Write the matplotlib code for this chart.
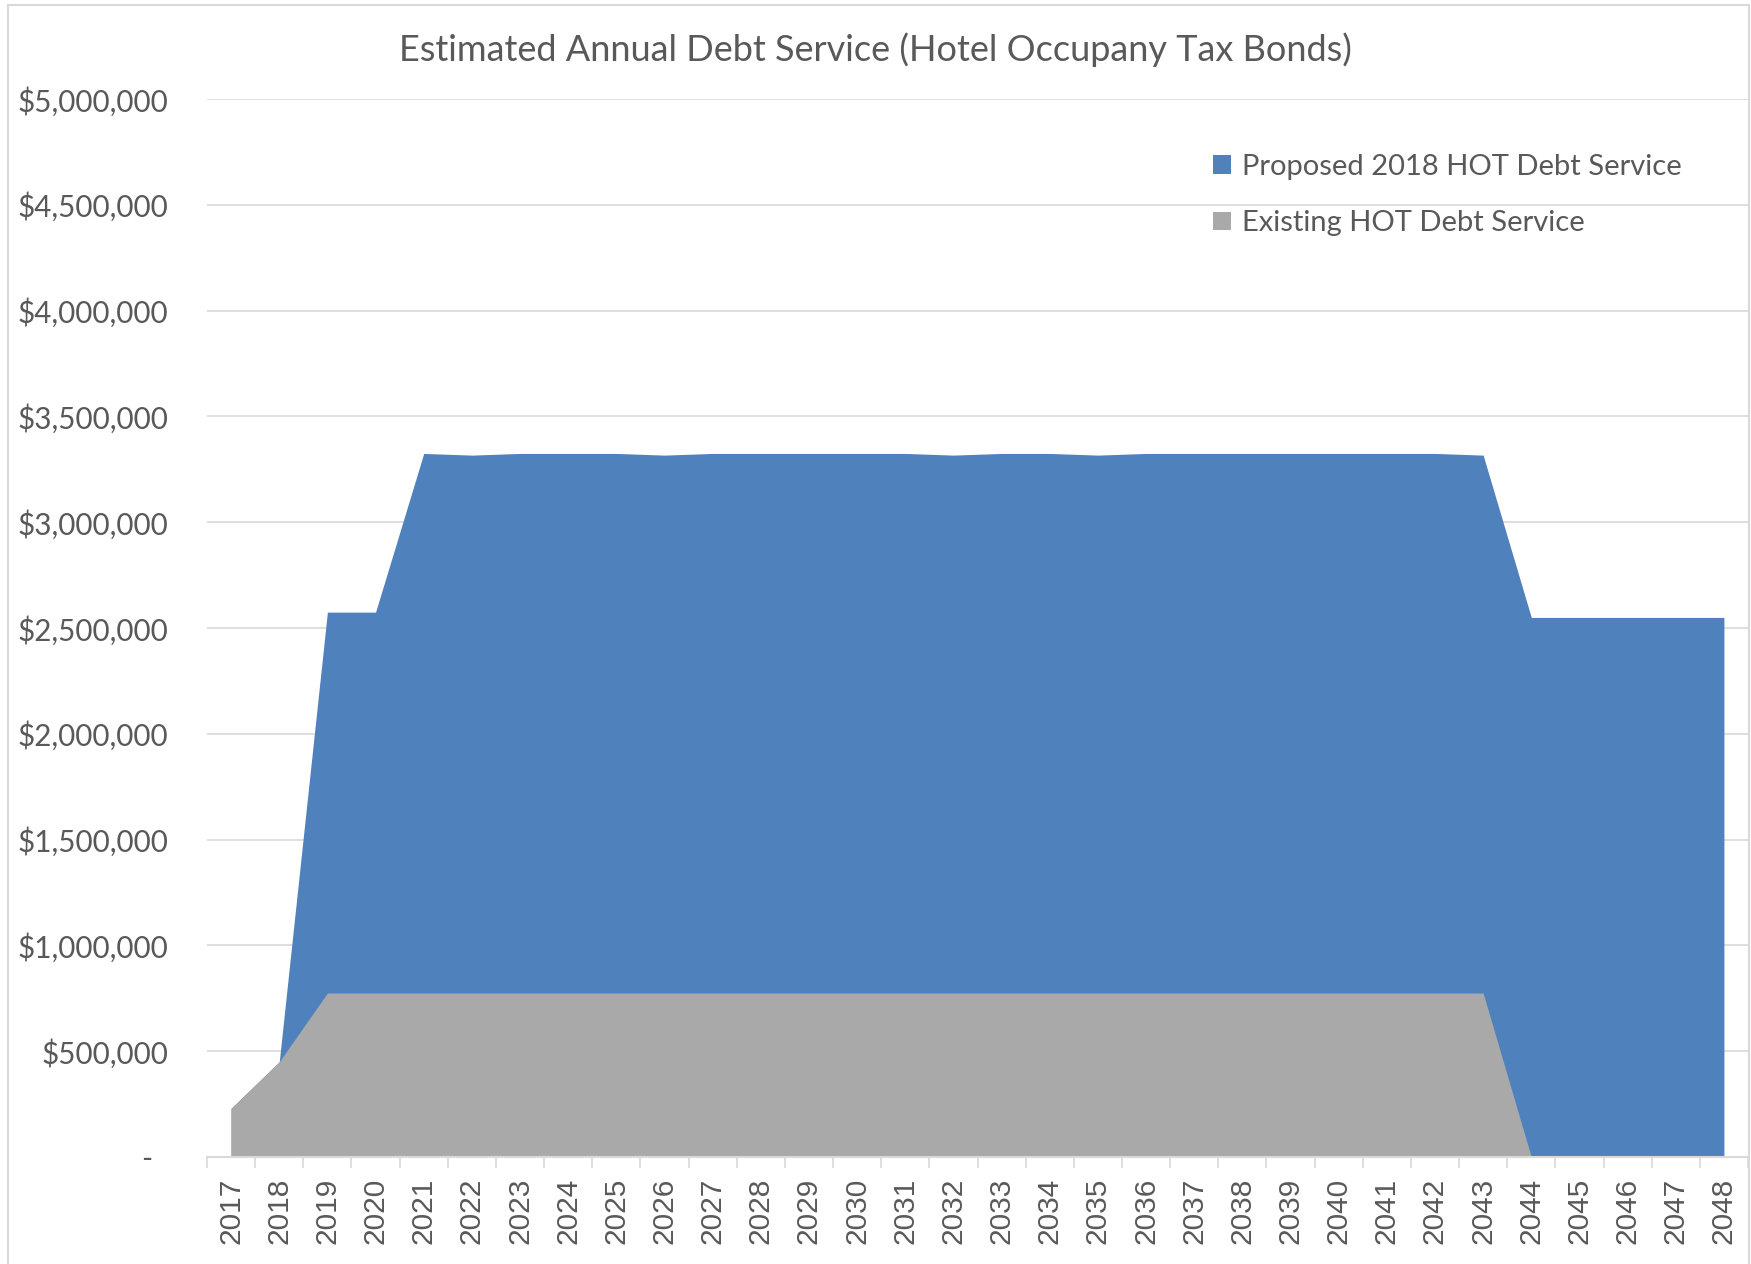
import matplotlib.pyplot as plt
from matplotlib.patches import Patch
from matplotlib.lines import Line2D
from matplotlib.ticker import FuncFormatter, MultipleLocator

# --- Data
years = ["2017", "2018", "2019", "2020", "2021", "2022", "2023", "2024",
         "2025", "2026", "2027", "2028", "2029", "2030", "2031", "2032",
         "2033", "2034", "2035", "2036", "2037", "2038", "2039", "2040",
         "2041", "2042", "2043", "2044", "2045", "2046", "2047", "2048"]

existing = [230000, 450000, 775000, 775000, 775000, 775000, 775000, 775000,
            775000, 775000, 775000, 775000, 775000, 775000, 775000, 775000,
            775000, 775000, 775000, 775000, 775000, 775000, 775000, 775000,
            775000, 775000, 775000, 0, 0, 0, 0, 0]

proposed = [0, 0, 1800000, 1800000, 2550000, 2542000, 2550000, 2550000,
            2550000, 2542000, 2550000, 2550000, 2550000, 2550000, 2550000, 2542000,
            2550000, 2550000, 2542000, 2550000, 2550000, 2550000, 2550000, 2550000,
            2550000, 2550000, 2542000, 2550000, 2550000, 2550000, 2550000, 2550000]

title = "Estimated Annual Debt Service (Hotel Occupany Tax Bonds)"
series_names = ["Proposed 2018 HOT Debt Service", "Existing HOT Debt Service"]

BLUE = "#4F81BD"
GRAY = "#A9A9A9"
GRID = "#D9D9D9"
TEXT = "#595959"

plt.rcParams['font.family'] = ['Lato', 'DejaVu Sans']

W, H = 1751, 1264
fig = plt.figure(figsize=(W / 100, H / 100), dpi=100)
ax = fig.add_axes([207 / W, 1 - 1157 / H, (1748 - 207) / W, (1157 - 99) / H])

x = list(range(len(years)))
total = [e + p for e, p in zip(existing, proposed)]

# blue drawn as the full stack, grey on top of it (no seams between the two)
ax.fill_between(x, 0, total, color=BLUE, lw=0, zorder=2)
ax.fill_between(x, 0, existing, color=GRAY, lw=0, zorder=3)

ax.set_xlim(-0.5, len(years) - 0.5)
ax.set_ylim(0, 5000000)

ax.yaxis.set_major_locator(MultipleLocator(500000))


def money(v, pos):
    if v == 0:
        return "-  "
    return "${:,.0f}".format(v)


ax.yaxis.set_major_formatter(FuncFormatter(money))
ax.grid(axis="y", color=GRID, lw=1.2)
ax.set_axisbelow(True)

ax.set_xticks(x)
ax.set_xticklabels(years, rotation=90)
ax.set_xticks([i - 0.5 for i in range(len(years) + 1)], minor=True)
ax.tick_params(axis="x", which="major", length=0, pad=15, labelsize=21.5,
               labelcolor=TEXT, labelfontfamily="Liberation Sans")
ax.tick_params(axis="x", which="minor", length=8, width=1.2, color=GRID, direction="out")
ax.tick_params(axis="y", length=0, pad=28, labelsize=21.3, labelcolor=TEXT)

for side in ["top", "right", "left"]:
    ax.spines[side].set_visible(False)
ax.spines["bottom"].set_color(GRID)
ax.spines["bottom"].set_linewidth(1.5)
ax.spines["bottom"].set_zorder(4)

fig.text(0.5, 1 - 50 / H, title, ha="center", va="center", fontsize=26, color=TEXT)

handles = [Patch(facecolor=BLUE, edgecolor="none"), Patch(facecolor=GRAY, edgecolor="none")]
fig.legend(handles, series_names, loc="upper left",
           bbox_to_anchor=(1213 / W, 1 - 154 / H), frameon=False,
           fontsize=21, labelcolor=TEXT, handlelength=0.6, handleheight=0.6,
           handletextpad=0.4, labelspacing=1.03, borderpad=0, borderaxespad=0)

# outer chart border (picture is cropped at the bottom)
fig.add_artist(Line2D([8 / W, 8 / W], [0, 1 - 5 / H], color=GRID, lw=1.5))
fig.add_artist(Line2D([8 / W, 1749 / W], [1 - 5 / H, 1 - 5 / H], color=GRID, lw=1.5))
fig.add_artist(Line2D([1749 / W, 1749 / W], [0, 1 - 5 / H], color=GRID, lw=1.5))

fig.savefig("out.png", dpi=100)
